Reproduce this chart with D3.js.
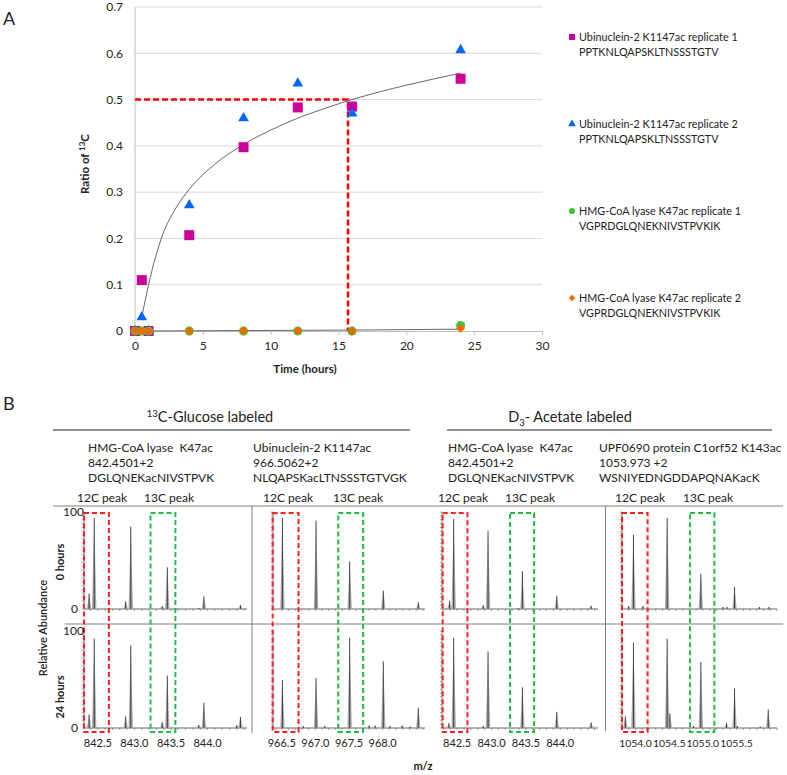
<!DOCTYPE html>
<html lang="en">
<head>
<meta charset="UTF-8">
<script src="https://cdn.jsdelivr.net/npm/d3@7/dist/d3.min.js"></script>
<style>
    body { margin: 0; background: #fff; }
    svg text { font-family: Lato, "Open Sans", sans-serif; fill: #222; white-space: pre; }
    .grid line { stroke: #d9d9d9; }
    .frame { stroke: #808080; stroke-width: 1; }
    .bold { font-weight: bold; }
</style>
</head>
<body>
<script>
/* ---- Panel A: ratio of 13C over time ---- */
var times = [0, 0.5, 1, 4, 8, 12, 16, 24];
var ubn1 = [0, 0.11, 0, 0.207, 0.397, 0.483, 0.485, 0.545];
var ubn2 = [0, 0.03, 0, 0.272, 0.46, 0.535, 0.47, 0.607];
var hmg1 = [0, 0, 0, 0, 0, 0, 0, 0.012];
var hmg2 = [0, 0, 0, 0, 0, 0, 0, 0.006];
// trend lines
var trendX = [0.5, 1, 2, 3, 4, 6, 8, 10, 12, 14, 16, 20, 24];
var trendY = [0.03, 0.1, 0.205, 0.265, 0.306, 0.363, 0.403, 0.434, 0.46, 0.481, 0.5, 0.531, 0.557];
var flatX = [0.5, 8, 16, 24];
var flatY = [0, 0.001, 0.002, 0.004];
var halfTime = 15.7, halfRatio = 0.5;
var yTicksA = [0, 0.1, 0.2, 0.3, 0.4, 0.5, 0.6, 0.7];
var xTicksA = [0, 5, 10, 15, 20, 25, 30];
var legendNames = ["Ubinuclein-2 K1147ac replicate 1", "Ubinuclein-2 K1147ac replicate 2",
                   "HMG-CoA lyase K47ac replicate 1", "HMG-CoA lyase K47ac replicate 2"];
var legendSeqs = ["PPTKNLQAPSKLTNSSSTGTV", "PPTKNLQAPSKLTNSSSTGTV",
                  "VGPRDGLQNEKNIVSTPVKIK", "VGPRDGLQNEKNIVSTPVKIK"];
var seriesColors = ["#cc0099", "#0066ff", "#33cc33", "#ff6600"];

/* ---- Panel B: spectra, [m/z, relative abundance] ---- */
var colTitles = [["HMG-CoA lyase  K47ac", "842.4501+2", "DGLQNEKacNIVSTPVK"],
                 ["Ubinuclein-2 K1147ac", "966.5062+2", "NLQAPSKacLTNSSSTGTVGK"],
                 ["HMG-CoA lyase  K47ac", "842.4501+2", "DGLQNEKacNIVSTPVK"],
                 ["UPF0690 protein C1orf52 K143ac", "1053.973 +2", "WSNIYEDNGDDAPQNAKacK"]];
var mzDomains = [[842.31, 844.54], [966.37, 968.63], [842.28, 844.55], [1053.80, 1056.10]];
var mzTicks = [[842.5, 843.0, 843.5, 844.0], [966.5, 967.0, 967.5, 968.0],
               [842.5, 843.0, 843.5, 844.0], [1054.0, 1054.5, 1055.0, 1055.5]];
var hmgGlc0 = [[842.38, 16], [842.45, 94], [842.88, 8], [842.95, 85], [843.38, 3], [843.45, 43],
               [843.88, 1], [843.95, 13], [844.45, 4]];
var hmgGlc24 = [[842.38, 14], [842.45, 92], [842.88, 12], [842.95, 85], [843.38, 6], [843.45, 54],
                [843.88, 3], [843.95, 26], [844.40, 3], [844.45, 11.5]];
var ubnGlc0 = [[966.51, 94], [967.01, 91], [967.51, 49], [968.01, 19], [968.53, 7]];
var ubnGlc24 = [[966.51, 49.5], [966.82, 2], [967.01, 51.5], [967.14, 2], [967.51, 93], [967.80, 2.5],
                [967.89, 2.5], [968.01, 68.7], [968.11, 2], [968.29, 2.5], [968.41, 1.5], [968.53, 21]];
var hmgAc0 = [[842.39, 8.5], [842.45, 92.8], [842.88, 4], [842.95, 80.7], [843.39, 1], [843.45, 39],
              [843.95, 13.7], [844.45, 3.4]];
var hmgAc24 = [[842.38, 5], [842.45, 93], [842.88, 2], [842.95, 79], [843.45, 42], [843.95, 16.6],
               [844.45, 5.6]];
var upf0 = [[1053.90, 3], [1053.97, 76.6], [1054.11, 3], [1054.47, 94], [1054.97, 36.5], [1055.30, 2],
            [1055.36, 2], [1055.47, 22.6], [1055.84, 2], [1055.98, 2]];
var upf24 = [[1053.85, 12], [1053.97, 88], [1054.47, 92], [1054.51, 15], [1054.86, 2], [1054.97, 68],
             [1055.35, 5], [1055.47, 40.6], [1055.51, 2], [1055.85, 1.5], [1055.97, 19]];
var spectra0 = [hmgGlc0, ubnGlc0, hmgAc0, upf0];
var spectra24 = [hmgGlc24, ubnGlc24, hmgAc24, upf24];
// m/z windows of the 12C (red) and 13C (green) boxes
var box12C = [[842.31, 842.65], [966.365, 966.75], [842.29, 842.65], [1053.80, 1054.18]];
var box13C = [[843.22, 843.56], [967.34, 967.71], [843.27, 843.62], [1054.81, 1055.17]];

var width = 787, height = 775;
var svg = d3.select("body").append("svg")
    .attr("width", width).attr("height", height);
svg.append("rect").attr("width", width).attr("height", height).attr("fill", "#fff");

/* ================= Panel A ================= */
svg.append("text").attr("x", 3).attr("y", 25).style("font-size", "18px").text("A");

var xA = d3.scaleLinear().domain([0, 30]).range([135, 542]);
var yA = d3.scaleLinear().domain([0, 0.7]).range([331, 7]);

var grid = svg.append("g").attr("class", "grid");
grid.selectAll("line").data(yTicksA.slice(1)).enter().append("line")
    .attr("x1", xA(0)).attr("x2", xA(30))
    .attr("y1", function(d) { return yA(d); }).attr("y2", function(d) { return yA(d); });

svg.append("line").attr("x1", xA(0)).attr("x2", xA(0)).attr("y1", yA(0)).attr("y2", yA(0.7))
    .attr("stroke", "#bfbfbf");
var xAxisA = svg.append("g").attr("transform", "translate(0," + yA(0) + ")")
    .call(d3.axisBottom(xA).tickValues(xTicksA).tickSize(4).tickPadding(6));
xAxisA.select(".domain").attr("stroke", "#bfbfbf");
xAxisA.selectAll(".tick line").attr("stroke", "#bfbfbf");
xAxisA.selectAll("text").style("font-size", "12px").style("font-family", "Lato, sans-serif").attr("fill", "#333");

var yAxisA = svg.append("g").attr("transform", "translate(" + xA(0) + ",0)")
    .call(d3.axisLeft(yA).tickValues(yTicksA).tickSize(0).tickPadding(12)
        .tickFormat(function(d) { return d === 0 ? "0" : d3.format(".1f")(d); }));
yAxisA.select(".domain").remove();
yAxisA.selectAll("text").style("font-size", "12px").style("font-family", "Lato, sans-serif").attr("fill", "#333");

svg.append("text").attr("class", "bold").attr("x", 305).attr("y", 373)
    .attr("text-anchor", "middle").style("font-size", "11.5px").text("Time (hours)");
var yt = svg.append("text").attr("class", "bold")
    .attr("transform", "translate(89,164) rotate(-90)")
    .attr("text-anchor", "middle").style("font-size", "11.5px");
yt.append("tspan").text("Ratio of ");
yt.append("tspan").attr("dy", -4).style("font-size", "8px").text("13");
yt.append("tspan").attr("dy", 4).text("C");

// trend lines
var line = d3.line().curve(d3.curveMonotoneX)
    .x(function(d) { return xA(d[0]); }).y(function(d) { return yA(d[1]); });
svg.append("path").datum(d3.zip(trendX, trendY)).attr("d", line)
    .attr("fill", "none").attr("stroke", "#555").attr("stroke-width", 0.9);
svg.append("path").datum(d3.zip(flatX, flatY)).attr("d", line)
    .attr("fill", "none").attr("stroke", "#555").attr("stroke-width", 0.9);

// half-life guide
svg.append("path")
    .attr("d", "M" + xA(0) + "," + yA(halfRatio) + "H" + xA(halfTime) + "V" + yA(0))
    .attr("fill", "none").attr("stroke", "#ff0000").attr("stroke-width", 2.5)
    .attr("stroke-dasharray", "6,3");

// marker shapes: square, triangle, circle, diamond (square turned 45 deg)
var symbols = [d3.symbolSquare, d3.symbolTriangle, d3.symbolCircle, d3.symbolSquare];
var sizes = [100, 50, 64, 40];
var rotations = [0, 0, 0, 45];
var allSeries = [ubn1, ubn2, hmg1, hmg2];
allSeries.forEach(function(vals, i) {
    svg.append("g").selectAll("path").data(d3.zip(times, vals)).enter().append("path")
        .attr("transform", function(d) {
            return "translate(" + xA(d[0]) + "," + yA(d[1]) + ") rotate(" + rotations[i] + ")";
        })
        .attr("d", d3.symbol().type(symbols[i]).size(sizes[i]))
        .attr("fill", seriesColors[i]);
});

// legend
var leg = svg.append("g").selectAll("g").data(legendNames).enter().append("g")
    .attr("transform", function(d, i) { return "translate(572," + (37 + i * 87) + ")"; });
leg.append("path")
    .attr("transform", function(d, i) { return "rotate(" + rotations[i] + ")"; })
    .attr("d", function(d, i) { return d3.symbol().type(symbols[i]).size([36, 26, 30, 20][i])(); })
    .attr("fill", function(d, i) { return seriesColors[i]; });
leg.append("text").attr("x", 7).attr("y", 4).style("font-size", "10.8px").text(function(d) { return d; });
leg.append("text").attr("x", 7).attr("y", 19).style("font-size", "10.8px")
    .text(function(d, i) { return legendSeqs[i]; });

/* ================= Panel B ================= */
svg.append("text").attr("x", 3).attr("y", 410).style("font-size", "18px").text("B");

var t1 = svg.append("text").attr("x", 210).attr("y", 422).attr("text-anchor", "middle").style("font-size", "14.5px");
t1.append("tspan").attr("dy", -5).style("font-size", "9.5px").text("13");
t1.append("tspan").attr("dy", 5).text("C-Glucose labeled");
var t2 = svg.append("text").attr("x", 570).attr("y", 422).attr("text-anchor", "middle").style("font-size", "14.5px");
t2.append("tspan").text("D");
t2.append("tspan").attr("dy", 4).style("font-size", "9.5px").text("3");
t2.append("tspan").attr("dy", -4).text("- Acetate labeled");
svg.append("line").attr("x1", 53).attr("x2", 410).attr("y1", 430).attr("y2", 430).attr("stroke", "#222");
svg.append("line").attr("x1", 447).attr("x2", 772).attr("y1", 430).attr("y2", 430).attr("stroke", "#222");

var colLabelX = [88, 253, 448, 599];
colTitles.forEach(function(lines, c) {
    svg.append("g").selectAll("text").data(lines).enter().append("text")
        .attr("x", colLabelX[c]).attr("y", function(d, i) { return 452 + i * 15; })
        .style("font-size", "12px").text(function(d) { return d; });
});
var peak12X = [77, 263, 438, 615], peak13X = [144, 333, 505, 683];
peak12X.forEach(function(x, c) {
    svg.append("text").attr("x", x).attr("y", 502).style("font-size", "12px").text("12C peak");
    svg.append("text").attr("x", peak13X[c]).attr("y", 502).style("font-size", "12px").text("13C peak");
});

// frame lines
svg.append("line").attr("class", "frame").attr("x1", 53).attr("x2", 783).attr("y1", 506).attr("y2", 506);
svg.append("line").attr("class", "frame").attr("x1", 65).attr("x2", 783).attr("y1", 624).attr("y2", 624);
svg.append("line").attr("class", "frame").attr("x1", 252).attr("x2", 252).attr("y1", 506).attr("y2", 733);
svg.append("line").attr("class", "frame").attr("x1", 605.5).attr("x2", 605.5).attr("y1", 506).attr("y2", 731);

var colPx = [[84, 247], [273, 425], [442, 598], [622, 777]];
var y0h = d3.scaleLinear().domain([0, 100]).range([609, 512]);
var y24h = d3.scaleLinear().domain([0, 100]).range([728, 631]);

function drawSpectrum(g, x, y, peaks) {
    var r = x.range();
    // abundance axis with dense minor ticks
    g.append("line").attr("x1", r[0]).attr("x2", r[0]).attr("y1", y(0)).attr("y2", y(100))
        .attr("stroke", "#666").attr("stroke-width", 0.8);
    g.append("g").selectAll("line").data(d3.range(0, 101, 4)).enter().append("line")
        .attr("x1", r[0] - 2).attr("x2", r[0])
        .attr("y1", function(d) { return y(d); }).attr("y2", function(d) { return y(d); })
        .attr("stroke", "#666").attr("stroke-width", 0.6);
    // baseline with minor ticks
    g.append("line").attr("x1", r[0]).attr("x2", r[1]).attr("y1", y(0)).attr("y2", y(0))
        .attr("stroke", "#555").attr("stroke-width", 0.9);
    var d = x.domain();
    var minor = d3.range(Math.ceil(d[0] * 10), Math.floor(d[1] * 10) + 1).map(function(v) { return v / 10; });
    g.append("g").selectAll("line").data(minor).enter().append("line")
        .attr("x1", function(v) { return x(v); }).attr("x2", function(v) { return x(v); })
        .attr("y1", y(0)).attr("y2", y(0) + 2).attr("stroke", "#666").attr("stroke-width", 0.6);
    // peaks
    var pk = g.append("g").selectAll("g").data(peaks).enter().append("g");
    pk.append("path")
        .attr("d", function(p) {
            var cx = x(p[0]), top = y(p[1]), base = y(0);
            return "M" + (cx - 2.2) + "," + base + "L" + cx + "," + top + "L" + (cx + 2.2) + "," + base + "Z";
        })
        .attr("fill", "#aaa");
    pk.append("line")
        .attr("x1", function(p) { return x(p[0]); }).attr("x2", function(p) { return x(p[0]); })
        .attr("y1", y(0)).attr("y2", function(p) { return y(p[1]); })
        .attr("stroke", "#333").attr("stroke-width", 0.9);
}

var specG = svg.append("g");
mzDomains.forEach(function(dom, c) {
    var x = d3.scaleLinear().domain(dom).range(colPx[c]);
    drawSpectrum(specG.append("g"), x, y0h, spectra0[c]);
    drawSpectrum(specG.append("g"), x, y24h, spectra24[c]);

    // m/z labels
    specG.append("g").selectAll("text").data(mzTicks[c]).enter().append("text")
        .attr("x", function(v) { return x(v); }).attr("y", 747)
        .attr("text-anchor", "middle").style("font-size", c === 3 ? "10.4px" : "11px")
        .text(function(v) { return d3.format(".1f")(v); });

    // dashed boxes across both time points
    [[box12C[c], "#ff2020"], [box13C[c], "#22bb44"]].forEach(function(b) {
        specG.append("rect")
            .attr("x", x(b[0][0])).attr("width", x(b[0][1]) - x(b[0][0]))
            .attr("y", y0h(99)).attr("height", y24h(-4) - y0h(99))
            .attr("fill", "none").attr("stroke", b[1]).attr("stroke-width", 2)
            .attr("stroke-dasharray", "5,3");
    });
});

// abundance labels on the first column
[y0h, y24h].forEach(function(y) {
    svg.append("text").attr("x", 84).attr("y", y(100) + 4).attr("text-anchor", "end")
        .style("font-size", "12px").text("100");
    svg.append("text").attr("x", 78).attr("y", y(0) + 4).attr("text-anchor", "end")
        .style("font-size", "12px").text("0");
});

svg.append("text").attr("transform", "translate(47,628) rotate(-90)").attr("text-anchor", "middle")
    .style("font-size", "11px").style("font-weight", 600).text("Relative Abundance");
svg.append("text").attr("class", "bold").attr("transform", "translate(64,562) rotate(-90)")
    .attr("text-anchor", "middle").style("font-size", "11px").text("0 hours");
svg.append("text").attr("class", "bold").attr("transform", "translate(64,697) rotate(-90)")
    .attr("text-anchor", "middle").style("font-size", "11px").text("24 hours");
svg.append("text").attr("class", "bold").attr("x", 423).attr("y", 770)
    .attr("text-anchor", "middle").style("font-size", "11px").text("m/z");
</script>
</body>
</html>
